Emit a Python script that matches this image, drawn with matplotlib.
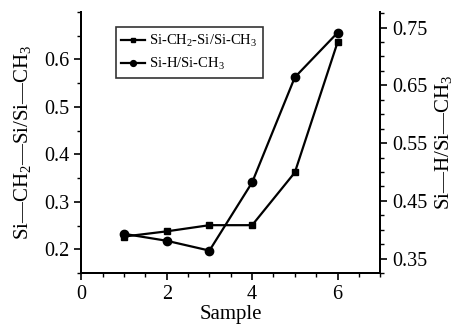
import matplotlib
matplotlib.use("Agg")
import matplotlib.pyplot as plt
from matplotlib.ticker import MultipleLocator

plt.rcParams['font.family'] = ['Liberation Serif', 'DejaVu Serif']
plt.rcParams['mathtext.fontset'] = 'custom'
plt.rcParams['mathtext.rm'] = 'Liberation Serif'
plt.rcParams['mathtext.it'] = 'Liberation Serif'

samples = [1, 2, 3, 4, 5, 6]
sich2_ratio = [0.227, 0.238, 0.251, 0.251, 0.362, 0.636]
sih_ratio = [0.393, 0.381, 0.364, 0.482, 0.664, 0.741]

left_ticks = [0.2, 0.3, 0.4, 0.5, 0.6]
right_ticks = [0.35, 0.45, 0.55, 0.65, 0.75]
x_ticks = [0, 2, 4, 6]

label_left = 'Si—CH$_2$—Si/Si—CH$_3$'
label_right = 'Si—H/Si—CH$_3$'
legend_1 = 'Si-CH$_2$-Si/Si-CH$_3$'
legend_2 = 'Si-H/Si-CH$_3$'

fig = plt.figure(figsize=(4.57, 3.24), dpi=100)
ax = fig.add_axes([0.178, 0.157, 0.654, 0.806])
ax2 = ax.twinx()

l1, = ax.plot(samples, sich2_ratio, '-s', color='black', lw=1.6, ms=5, label=legend_1)
l2, = ax2.plot(samples, sih_ratio, '-o', color='black', lw=1.6, ms=6, label=legend_2)

ax.set_xlim(0, 7)
ax.set_ylim(0.15, 0.70)
ax2.set_ylim(0.325, 0.777)

ax.set_xticks(x_ticks)
ax.xaxis.set_minor_locator(MultipleLocator(0.5))
ax.set_yticks(left_ticks)
ax.yaxis.set_minor_locator(MultipleLocator(0.05))
ax2.set_yticks(right_ticks)
ax2.yaxis.set_minor_locator(MultipleLocator(0.025))

for a in (ax, ax2):
    a.spines['top'].set_visible(False)
    for s in a.spines.values():
        s.set_linewidth(1.4)
    a.tick_params(which='major', direction='out', length=5, width=1.2, labelsize=14.5)
    a.tick_params(which='minor', direction='out', length=3, width=1.0)

ax.set_xlabel('Sample', fontsize=15, labelpad=1)
ax.set_ylabel(label_left, fontsize=15, labelpad=8)
ax2.set_ylabel(label_right, fontsize=15, labelpad=4)

leg = ax.legend(handles=[l1, l2], loc='upper left', bbox_to_anchor=(0.09, 0.97),
                fontsize=10.5, frameon=True, fancybox=False, edgecolor='black',
                handlelength=1.6, handletextpad=0.3, borderpad=0.4, labelspacing=0.5,
                markerscale=0.7)
leg.get_frame().set_linewidth(1.2)

fig.savefig('out.png', dpi=100)
